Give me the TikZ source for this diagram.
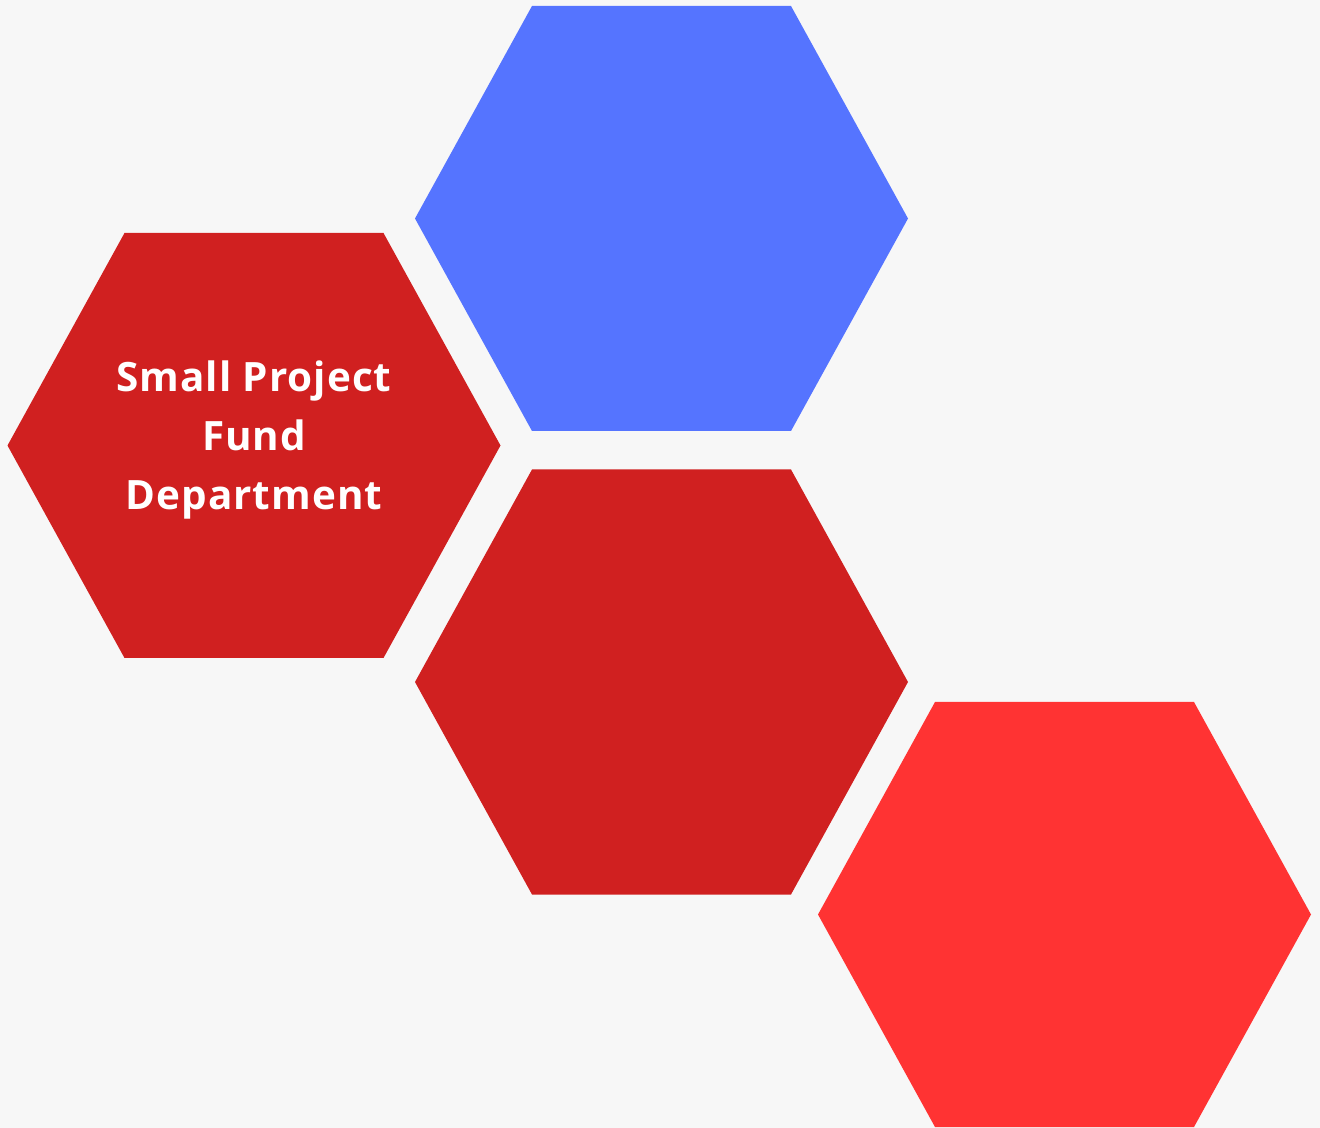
\documentclass[tikz,border=0pt]{standalone}
\usepackage{fontspec}
\setsansfont{Open Sans}[LetterSpace=2.5]
\usetikzlibrary{positioning}
\definecolor{paper}{HTML}{F7F7F7}
\definecolor{fundred}{HTML}{D02020}
\definecolor{hexblue}{HTML}{5574FF}
\definecolor{hexred}{HTML}{FF3333}
\tikzset{
    %Define style for the label
    hexlabel/.style={
           text=white,
           align=center,
           font=\sffamily\bfseries\fontsize{23}{33.5}\selectfont},
}

\begin{document}
\begin{tikzpicture}[x=0.02cm, y=-0.02cm]
  \fill[paper] (0,0) rectangle (1320,1128);
  % hexagons: centre x / centre y / colour
  \foreach \cx/\cy/\col in {254/445.5/fundred, 661.5/218.5/hexblue,
                            661.5/682/fundred, 1064.5/914.5/hexred}
    \fill[\col, shift={(\cx,\cy)}]
      (-129.5,-212.5) -- (129.5,-212.5) -- (246.5,0)
      -- (129.5,212.5) -- (-129.5,212.5) -- (-246.5,0) -- cycle;
  \node[hexlabel] (fund) at (254,440) {Small Project\\Fund\\Department};
\end{tikzpicture}
\end{document}
